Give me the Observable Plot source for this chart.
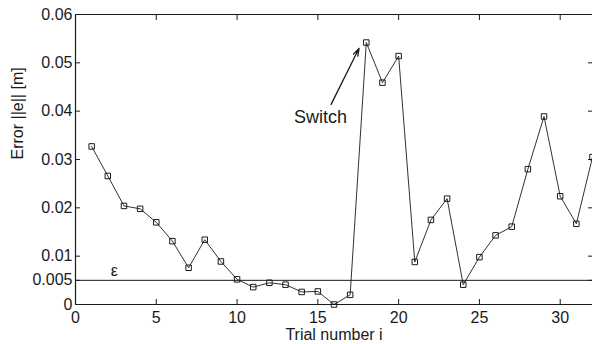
<!DOCTYPE html>
<html><head><meta charset="utf-8">
<script src="https://cdn.jsdelivr.net/npm/d3@7"></script>
<script src="https://cdn.jsdelivr.net/npm/@observablehq/plot@0.6"></script>
<style>
html,body{margin:0;padding:0;background:#fff;}
</style>
</head><body>
<div id="chart"></div>
<script>
const trials = [1,2,3,4,5,6,7,8,9,10,11,12,13,14,15,16,17,18,19,20,21,22,23,24,25,26,27,28,29,30,31,32];
const errors = [0.0327,0.0266,0.0204,0.0198,0.0170,0.0131,0.0076,0.0134,0.0089,0.0052,0.0036,0.0045,0.0041,0.0026,0.0027,0.0000,0.0020,0.0542,0.0459,0.0514,0.0088,0.0175,0.0219,0.0041,0.0098,0.0143,0.0161,0.0280,0.0389,0.0224,0.0167,0.0305];
const xTicks = [0,5,10,15,20,25,30];
const yTicks = [0,0.005,0.01,0.02,0.03,0.04,0.05,0.06];
const epsilon = 0.005;
const epsLabel = [{x: 2.4, y: 0.0058, text: "ε"}];
const switchArrow = [{x1: 15.82, y1: 0.0414, x2: 17.55, y2: 0.0530}];
const switchLabel = [{x: 15.16, y: 0.0387, text: "Switch"}];

const data = trials.map((t, i) => ({trial: t, error: errors[i]}));
const ink = "#1a1a1a";

const chart = Plot.plot({
  width: 592,
  height: 344,
  marginLeft: 75,
  marginRight: 0,
  marginTop: 14,
  marginBottom: 40,
  style: {fontFamily: "'Liberation Sans', Arial, sans-serif", fontSize: "16px", color: ink, background: "#fff"},
  x: {domain: [0, 32]},
  y: {domain: [0, 0.06]},
  marks: [
    Plot.ruleX([0], {stroke: ink, strokeWidth: 1.2}),
    Plot.ruleY([0, 0.06], {stroke: ink, strokeWidth: 1.2}),
    Plot.axisX({ticks: xTicks, anchor: "bottom", tickSize: -5, text: null, label: null, stroke: ink}),
    Plot.axisX({ticks: xTicks, anchor: "top", tickSize: -5, text: null, label: null, stroke: ink}),
    Plot.axisY({ticks: yTicks, anchor: "left", tickSize: -5, text: null, label: null, stroke: ink}),
    Plot.axisY({ticks: yTicks, anchor: "right", tickSize: -5, text: null, label: null, stroke: ink}),
    Plot.axisX({ticks: xTicks, anchor: "bottom", tickSize: 0, tickPadding: 7, label: null, fontSize: 16, fill: ink}),
    Plot.axisY({ticks: yTicks, anchor: "left", tickSize: 0, tickPadding: 3, label: null, fontSize: 16, fill: ink,
      tickFormat: d => d === 0 ? "0" : String(d)}),
    Plot.text([0], {frameAnchor: "bottom", dy: 35, text: () => "Trial number i", fontSize: 16, fill: ink}),
    Plot.text([0], {frameAnchor: "left", rotate: -90, dx: -58, text: () => "Error ||e|| [m]", fontSize: 16, fill: ink}),
    Plot.ruleY([epsilon], {stroke: ink, strokeWidth: 1}),
    Plot.text(epsLabel, {x: "x", y: "y", text: "text", fontSize: 16, fill: ink, textAnchor: "middle", lineAnchor: "bottom"}),
    Plot.line(data, {x: "trial", y: "error", stroke: ink, strokeWidth: 0.9}),
    Plot.dot(data, {x: "trial", y: "error", symbol: "square", r: 3.1, stroke: ink, strokeWidth: 1, fill: "none"}),
    Plot.arrow(switchArrow, {x1: "x1", y1: "y1", x2: "x2", y2: "y2", stroke: ink, strokeWidth: 1.3, headLength: 9, headAngle: 35, bend: 0}),
    Plot.text(switchLabel, {x: "x", y: "y", text: "text", fontSize: 18, fill: ink})
  ]
});
document.getElementById("chart").appendChild(chart);
</script>
</body></html>
